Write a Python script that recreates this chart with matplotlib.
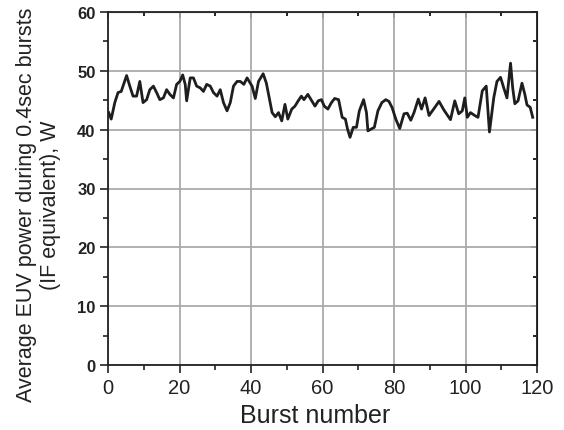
import matplotlib
matplotlib.use("Agg")
import matplotlib.pyplot as plt
from matplotlib.ticker import MultipleLocator

burst = [0.2, 0.9, 1.9, 2.8, 3.7, 5.2, 6.1, 7.0, 8.0, 8.9, 9.8, 10.8, 11.7, 12.7, 13.6, 14.5,
         15.5, 16.4, 17.3, 18.3, 19.2, 20.1, 20.9, 21.6, 22.0, 23.0, 23.9, 24.8, 25.8, 26.7,
         27.6, 28.6, 29.5, 30.5, 31.4, 32.3, 33.3, 34.2, 35.1, 36.1, 37.0, 38.0, 38.9, 39.7,
         40.3, 41.2, 42.1, 43.4, 44.3, 45.2, 45.9, 46.8, 47.7, 48.6, 49.5, 50.3, 51.4, 52.3,
         53.2, 54.1, 54.8, 55.9, 56.8, 57.9, 58.8, 59.7, 60.5, 61.5, 62.5, 63.4, 64.5, 65.5,
         66.4, 67.0, 67.7, 68.6, 69.5, 70.3, 71.5, 72.3, 72.7, 73.6, 74.5, 75.5, 76.6, 77.7,
         78.6, 79.5, 80.5, 81.6, 82.8, 83.7, 84.7, 85.6, 86.8, 87.7, 88.7, 89.8, 91.2, 92.6,
         94.0, 95.8, 97.0, 98.1, 99.1, 99.8, 100.5, 101.4, 102.6, 103.5, 104.7, 105.8, 106.7,
         107.9, 108.8, 109.8, 110.7, 111.6, 112.6, 113.2, 113.8, 114.7, 115.8, 116.6, 117.2,
         118.1, 118.8]
power = [42.9, 41.8, 44.6, 46.3, 46.5, 49.2, 47.4, 45.7, 45.7, 48.2, 44.6, 45.1, 46.8, 47.4,
         46.3, 45.1, 45.4, 46.8, 46.0, 45.4, 47.7, 48.2, 49.3, 47.7, 44.9, 48.8, 48.8, 47.4,
         47.1, 46.5, 47.7, 47.4, 46.3, 45.7, 46.8, 44.6, 43.2, 44.6, 47.4, 48.2, 48.2, 47.7,
         48.8, 48.0, 47.4, 45.3, 48.2, 49.5, 47.9, 45.1, 42.9, 42.2, 42.9, 41.5, 44.3, 41.8,
         43.5, 44.0, 44.9, 45.7, 45.1, 46.0, 45.1, 44.0, 44.9, 45.1, 44.0, 43.5, 44.6, 45.3,
         45.1, 42.1, 41.8, 40.1, 38.7, 40.4, 40.4, 43.2, 45.1, 42.9, 39.8, 40.1, 40.4, 43.2,
         44.6, 45.1, 44.8, 43.7, 41.8, 40.2, 42.7, 42.8, 41.6, 42.9, 45.2, 43.5, 45.4, 42.4,
         43.6, 44.8, 43.3, 41.7, 44.9, 42.7, 43.2, 45.4, 42.1, 42.9, 42.4, 42.1, 46.6, 47.4,
         39.6, 45.4, 48.2, 48.9, 47.1, 45.4, 51.3, 47.1, 44.4, 44.9, 47.9, 46.0, 44.2, 43.8,
         42.1]

xticks = [0, 20, 40, 60, 80, 100, 120]
yticks = [0, 10, 20, 30, 40, 50, 60]

plt.rcParams['font.family'] = ['Liberation Sans', 'DejaVu Sans']
txt = '#222222'

fig = plt.figure(figsize=(5.64, 4.31), dpi=100)
ax = fig.add_axes([108/564, 1-366/431, (537-108)/564, (366-13)/431])

ax.plot(burst, power, color='#1e1e1e', lw=2.0, zorder=3)
ax.set_xlim(0, 120)
ax.set_ylim(0, 60)
ax.set_xticks(xticks)
ax.set_yticks(yticks)
ax.xaxis.set_minor_locator(MultipleLocator(10))
ax.yaxis.set_minor_locator(MultipleLocator(5))
ax.grid(True, which='major', color='#aaaaaa', lw=1.3, zorder=1)
for s in ax.spines.values():
    s.set_linewidth(1.3)
    s.set_color('#222222')

ax.tick_params(which='major', direction='out', length=6, width=1.2, colors='#222222')
ax.tick_params(which='minor', direction='out', length=3.5, width=1.2, colors='#222222')
ax.tick_params(axis='x', labelsize=14.5, labelcolor=txt, pad=3)
ax.tick_params(axis='y', labelsize=12, labelcolor=txt, pad=3)
for lab in ax.get_yticklabels():
    lab.set_fontweight('bold')

# mirrored inward ticks on top and right
secx = ax.secondary_xaxis('top')
secx.set_xticks(xticks)
secx.xaxis.set_minor_locator(MultipleLocator(10))
secx.tick_params(which='major', direction='in', length=4, width=1.2, labeltop=False)
secx.tick_params(which='minor', direction='in', length=3, width=1.2)
secx.set_xticklabels([])
secy = ax.secondary_yaxis('right')
secy.set_yticks(yticks)
secy.yaxis.set_minor_locator(MultipleLocator(5))
secy.tick_params(which='major', direction='in', length=4, width=1.2)
secy.tick_params(which='minor', direction='in', length=3, width=1.2)
secy.set_yticklabels([])

ax.set_xlabel('Burst number', fontsize=18, color=txt, va='center')
ax.xaxis.set_label_coords((315-108)/(537-108), -(416-366)/(366-13))
fig.text(38.5/564, 1-205/431, 'Average EUV power during 0.4sec bursts\n(IF equivalent), W',
         rotation=90, ha='center', va='center', multialignment='center',
         fontsize=15.5, color=txt, linespacing=1.15)

fig.savefig('out.png', dpi=100)
